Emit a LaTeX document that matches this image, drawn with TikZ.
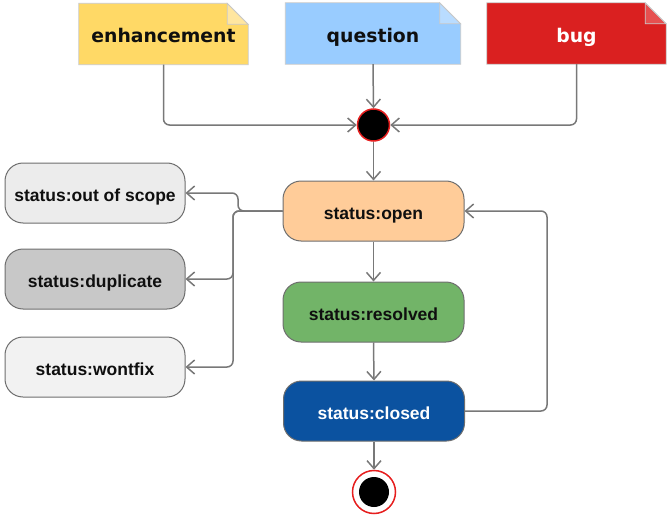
\documentclass[tikz,border=0pt]{standalone}
\usepackage{fontspec}
\setmainfont{Liberation Sans}
\newfontfamily\notefont{DejaVu Sans}
\usetikzlibrary{arrows.meta,backgrounds}

\definecolor{linegray}{RGB}{120,120,120}
\definecolor{boxline}{RGB}{110,110,110}
\definecolor{noteline}{RGB}{200,200,200}
\definecolor{enhfill}{RGB}{255,217,102}
\definecolor{enhfold}{RGB}{255,230,160}
\definecolor{quefill}{RGB}{153,204,255}
\definecolor{quefold}{RGB}{185,220,255}
\definecolor{bugfill}{RGB}{218,32,32}
\definecolor{bugfold}{RGB}{230,80,80}
\definecolor{openfill}{RGB}{255,204,153}
\definecolor{resfill}{RGB}{114,180,104}
\definecolor{closedfill}{RGB}{11,82,160}
\definecolor{oosfill}{RGB}{236,236,236}
\definecolor{dupfill}{RGB}{200,200,200}
\definecolor{wontfill}{RGB}{242,242,242}
\definecolor{textdark}{RGB}{15,15,15}
\definecolor{startred}{RGB}{230,30,30}

% folded-corner note drawn behind a named node
\newcommand\drawnote[3]{%
  \begin{scope}[on background layer]
    \fill[#2] (#1.north west) -- ([xshift=-21pt]#1.north east)
      -- ([yshift=-21pt]#1.north east) -- (#1.south east)
      -- (#1.south west) -- cycle;
    \filldraw[fill=#3, draw=noteline, line width=0.8pt]
      ([xshift=-21pt]#1.north east) -- ([xshift=-21pt,yshift=-21pt]#1.north east)
      -- ([yshift=-21pt]#1.north east) -- cycle;
    \draw[noteline, line width=0.8pt] (#1.north west) -- ([xshift=-21pt]#1.north east)
      -- ([yshift=-21pt]#1.north east) -- (#1.south east)
      -- (#1.south west) -- cycle;
  \end{scope}}

\tikzset{
  notebox/.style={minimum height=61pt, inner sep=0pt, text height=18pt, text depth=0pt,
    font=\notefont\bfseries\fontsize{18.8}{22}\selectfont, text=textdark},
  statebox/.style={rectangle, rounded corners=18pt, draw=boxline, line width=1pt,
    minimum width=181pt, minimum height=60pt, inner sep=0pt, text height=16pt, text depth=0pt,
    font=\bfseries\fontsize{17.5}{20}\selectfont, text=textdark},
  sidebox/.style={statebox, minimum width=180pt},
  conn/.style={draw=linegray, line width=1.5pt, rounded corners=6pt,
    -{Straight Barb[length=8pt,width=14pt]}},
}

\begin{document}
\begin{tikzpicture}[x=1pt,y=-1pt]
\useasboundingbox (0,0) rectangle (667,519);

% issue types
\node[notebox, minimum width=169pt] (enh) at (163.5,34) {enhancement};
\node[notebox, minimum width=175pt] (que) at (373,33.5) {question};
\node[notebox, minimum width=179pt, text=white] (bug) at (576.5,33.5) {bug};
\drawnote{enh}{enhfill}{enhfold}
\drawnote{que}{quefill}{quefold}
\drawnote{bug}{bugfill}{bugfold}

% initial and final states
\node[circle, fill=black, draw=startred, line width=1.5pt, minimum size=32pt, inner sep=0pt] (start) at (373.5,125) {};
\node[circle, fill=white, draw=startred, line width=1.5pt, minimum size=43pt, inner sep=0pt] (end) at (374,492) {};
\fill[black] (end.center) circle[radius=15pt];

% main states
\node[statebox, fill=openfill] (open) at (373.5,211) {status:open};
\node[statebox, fill=resfill] (resolved) at (373.5,312) {status:resolved};
\node[statebox, fill=closedfill, text=white] (closed) at (374,411) {status:closed};

% side states
\node[sidebox, fill=oosfill] (oos) at (95,193) {status:out of scope};
\node[sidebox, fill=dupfill] (dup) at (95,279) {status:duplicate};
\node[sidebox, fill=wontfill] (wont) at (95,367) {status:wontfix};

% connectors
\coordinate (loopx) at (547,0);
\coordinate (upx) at (238,0);
\coordinate (downx) at (233,0);

\draw[conn] (enh.south) |- (start.west);
\draw[conn] (que.south) -- (start.north);
\draw[conn] (bug.south) |- (start.east);
\draw[conn] (start.south) -- (open.north);
\draw[conn] (open.south) -- (resolved.north);
\draw[conn] (resolved.south) -- (closed.north);
\draw[conn] (closed.south) -- (end.north);
\draw[conn] (closed.east) -| (loopx |- open.east) -- (open.east);

\draw[conn] (open.west) -- (upx |- open.west) |- (oos.east);
\draw[conn] (open.west) -- (downx |- open.west) |- (dup.east);
\draw[conn] (open.west) -- (downx |- open.west) |- (wont.east);
\end{tikzpicture}
\end{document}
